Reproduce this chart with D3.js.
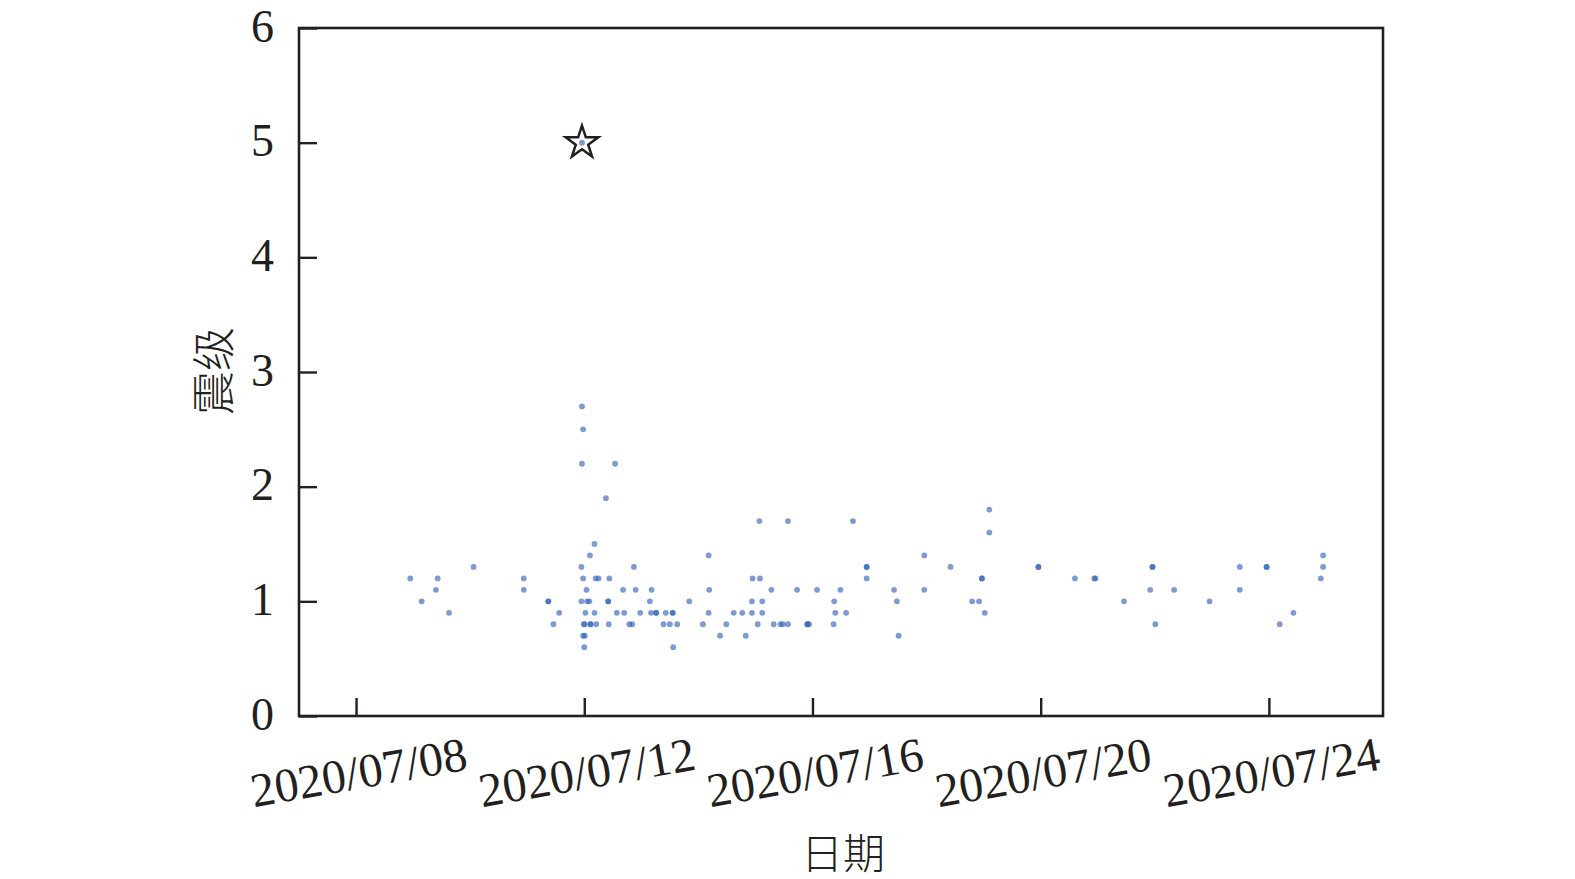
<!DOCTYPE html>
<html>
<head>
<meta charset="utf-8">
<script src="https://cdn.jsdelivr.net/npm/d3@7"></script>
<style>
  html, body { margin: 0; padding: 0; background: #fff; }
  svg { display: block; }
</style>
</head>
<body>
<svg id="chart" width="1575" height="879"></svg>
<script>
// ---- data (day of July 2020, decimal; magnitude) ----
const eventDay = [
  11.96, 11.98, 11.96, 12.54, 12.38, 12.18, 12.10, 11.95, 10.06, 12.87,
  8.95, 9.43, 10.94, 11.98, 12.20, 12.25, 12.44, 14.18,
  9.40, 10.94, 12.04, 12.68, 12.90, 13.18, 14.19,
  9.15, 11.37, 11.37, 11.95, 12.05, 12.09, 12.42, 12.42, 13.15, 13.84,
  9.63, 11.56, 12.02, 12.18, 12.57, 12.70, 12.98, 13.17, 13.26, 13.26, 13.43, 13.55, 13.55, 14.18,
  11.46, 11.99, 12.01, 12.11, 12.11, 12.21, 12.43, 12.79, 12.84, 13.39, 13.50, 13.63, 14.08,
  11.98, 12.01, 12.00, 13.56,
  15.07, 15.57, 16.71, 19.10, 19.10, 17.96,
  16.95, 16.95, 18.42,
  14.95, 15.08, 16.95, 18.97, 18.97,
  15.28, 15.73, 16.08, 16.49, 17.43, 17.96,
  14.94, 15.12, 16.38, 17.48, 18.80, 18.92,
  14.62, 14.77, 14.94, 15.12, 16.40, 16.59, 19.02,
  14.49, 15.04, 15.32, 15.44, 15.48, 15.57, 15.91, 15.91, 15.94, 16.37,
  14.38, 14.83, 17.51,
  24.95, 19.96, 19.96, 21.96, 21.96, 23.49, 23.96, 23.96, 24.95,
  20.60, 20.94, 20.96, 24.91,
  21.92, 22.34, 23.49,
  21.46, 22.96,
  24.43,
  22.01, 24.19
];
const magnitude = [
  2.7, 2.5, 2.2, 2.2, 1.9, 1.5, 1.4, 1.3, 1.3, 1.3,
  1.2, 1.2, 1.2, 1.2, 1.2, 1.2, 1.2, 1.4,
  1.1, 1.1, 1.1, 1.1, 1.1, 1.1, 1.1,
  1.0, 1.0, 1.0, 1.0, 1.0, 1.0, 1.0, 1.0, 1.0, 1.0,
  0.9, 0.9, 0.9, 0.9, 0.9, 0.9, 0.9, 0.9, 0.9, 0.9, 0.9, 0.9, 0.9, 0.9,
  0.8, 0.8, 0.8, 0.8, 0.8, 0.8, 0.8, 0.8, 0.8, 0.8, 0.8, 0.8, 0.8,
  0.7, 0.7, 0.6, 0.6,
  1.7, 1.7, 1.7, 1.8, 1.6, 1.4,
  1.3, 1.3, 1.3,
  1.2, 1.2, 1.2, 1.2, 1.2,
  1.1, 1.1, 1.1, 1.1, 1.1, 1.1,
  1.0, 1.0, 1.0, 1.0, 1.0, 1.0,
  0.9, 0.9, 0.9, 0.9, 0.9, 0.9, 0.9,
  0.8, 0.8, 0.8, 0.8, 0.8, 0.8, 0.8, 0.8, 0.8, 0.8,
  0.7, 0.7, 0.7,
  1.4, 1.3, 1.3, 1.3, 1.3, 1.3, 1.3, 1.3, 1.3,
  1.2, 1.2, 1.2, 1.2,
  1.1, 1.1, 1.1,
  1.0, 1.0,
  0.9,
  0.8, 0.8
];
const mainShockDay = [11.96];
const mainShockMag = [5.0];

const xTickDays = [8, 12, 16, 20, 24];
const xTickLabels = ["2020/07/08", "2020/07/12", "2020/07/16", "2020/07/20", "2020/07/24"];
const yTicks = [0, 1, 2, 3, 4, 5, 6];
const xDomainDays = [7, 26];
const yDomain = [0, 6];
const xTitle = "日期";
const yTitle = "震级";

// ---- helpers ----
const julyDate = d => new Date(2020, 6, 1, 0, 0, 0, 0).getTime() + (d - 1) * 86400000;

const svg = d3.select("#chart");
const pL = 299, pR = 1383, pT = 28, pB = 716;
const ink = "#231f20";
const serif = "'Liberation Serif', 'Times New Roman', serif";
const cjk = "'Noto Sans CJK SC', sans-serif";

const x = d3.scaleTime()
  .domain(xDomainDays.map(d => new Date(julyDate(d))))
  .range([pL, pR]);
const y = d3.scaleLinear().domain(yDomain).range([pB, pT]);

// points
const pts = eventDay.map((d, i) => ({ t: new Date(julyDate(d)), m: magnitude[i] }));
svg.append("g").selectAll("circle").data(pts).join("circle")
  .attr("cx", d => x(d.t)).attr("cy", d => y(d.m)).attr("r", 2.9)
  .attr("fill", "#3463b8").attr("fill-opacity", 0.64);

// main shock star
const ms = mainShockDay.map((d, i) => ({ t: new Date(julyDate(d)), m: mainShockMag[i] }));
svg.append("g").selectAll("path").data(ms).join("path")
  .attr("transform", d => `translate(${x(d.t)},${y(d.m)})`)
  .attr("d", d3.symbol(d3.symbolStar, 330))
  .attr("fill", "#fff").attr("stroke", ink).attr("stroke-width", 2.5)
  .attr("stroke-linejoin", "miter");
svg.append("g").selectAll("circle").data(ms).join("circle")
  .attr("cx", d => x(d.t)).attr("cy", d => y(d.m)).attr("r", 2.9)
  .attr("fill", "#3463b8").attr("fill-opacity", 0.64);

// axes
const xAxis = d3.axisBottom(x)
  .tickValues(xTickDays.map(d => new Date(julyDate(d))))
  .tickSizeInner(-18).tickSizeOuter(0)
  .tickFormat((d, i) => xTickLabels[i]);
const gx = svg.append("g").attr("transform", `translate(0,${pB})`).call(xAxis);
gx.select(".domain").remove();
gx.selectAll(".tick line").attr("stroke", ink).attr("stroke-width", 2.4);
gx.selectAll(".tick text")
  .attr("y", 0).attr("dy", null)
  .attr("transform", "translate(2,56) rotate(-10)")
  .attr("text-anchor", "middle").attr("dominant-baseline", "central")
  .attr("fill", ink).style("font-family", serif).style("font-size", "48px");

const yAxis = d3.axisLeft(y).tickValues(yTicks).tickSizeInner(-18).tickSizeOuter(0)
  .tickFormat(d3.format("d"));
const gy = svg.append("g").attr("transform", `translate(${pL},0)`).call(yAxis);
gy.select(".domain").remove();
gy.selectAll(".tick line").attr("stroke", ink).attr("stroke-width", 2.4);
gy.selectAll(".tick text")
  .attr("x", -25).attr("dy", "-0.05em")
  .attr("text-anchor", "end").attr("dominant-baseline", "central")
  .attr("fill", ink).style("font-family", serif).style("font-size", "46px");

// frame
svg.append("rect")
  .attr("x", pL).attr("y", pT).attr("width", pR - pL).attr("height", pB - pT)
  .attr("fill", "none").attr("stroke", ink).attr("stroke-width", 2.6);

// titles
svg.append("text").text(xTitle)
  .attr("x", 843).attr("y", 850)
  .attr("text-anchor", "middle").attr("dominant-baseline", "central")
  .attr("fill", ink).style("font-family", cjk).style("font-size", "42px").style("font-weight", 300);
svg.append("text").text(yTitle)
  .attr("transform", "translate(211,371) rotate(-90)")
  .attr("text-anchor", "middle").attr("dominant-baseline", "central")
  .attr("fill", ink).style("font-family", cjk).style("font-size", "44px").style("font-weight", 300);
</script>
</body>
</html>
